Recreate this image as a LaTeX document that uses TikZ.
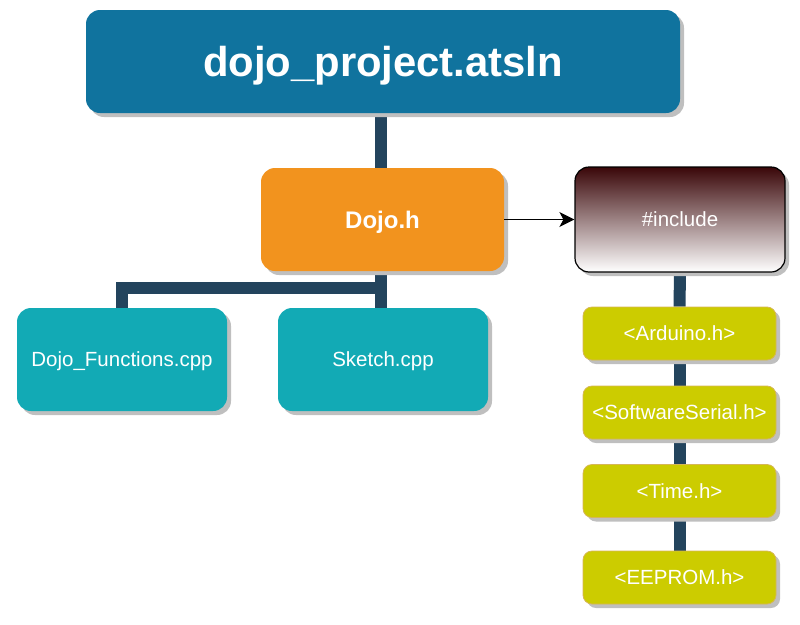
\documentclass[tikz,border=0pt]{standalone}
\usepackage{fontspec}
\setmainfont{Liberation Sans}
\usetikzlibrary{arrows.meta,shadows,backgrounds}

\definecolor{solnblue}{HTML}{10739E}
\definecolor{headorange}{HTML}{F2931E}
\definecolor{cppteal}{HTML}{12AAB5}
\definecolor{libyellow}{HTML}{CCCC00}
\definecolor{libedge}{HTML}{D6B656}
\definecolor{linkblue}{HTML}{23445D}
\definecolor{incred}{HTML}{3A0709}

\begin{document}
\begin{tikzpicture}[
  x=1pt, y=-1pt,
  every node/.style={rounded corners=14pt, align=center, text=white, inner sep=0pt, text depth=0pt,
    drop shadow={shadow xshift=4pt, shadow yshift=-4pt, fill=black!25, opacity=1}},
  solution/.style={fill=solnblue, minimum width=594pt, minimum height=103pt, font=\fontsize{41.8}{45}\selectfont\bfseries},
  header/.style={fill=headorange, minimum width=243pt, minimum height=103pt, font=\fontsize{24}{28}\selectfont\bfseries},
  source/.style={fill=cppteal, minimum width=210pt, minimum height=103pt, font=\fontsize{20.5}{24}\selectfont},
  include/.style={draw=black, line width=1.2pt, top color=incred, bottom color=white,
    minimum width=210pt, minimum height=105pt, font=\fontsize{20.5}{24}\selectfont},
  library/.style={fill=libyellow, draw=libedge, line width=0.8pt, rounded corners=9pt,
    minimum width=193pt, minimum height=53pt, font=\fontsize{20.5}{24}\selectfont},
  link/.style={draw=linkblue, line width=12pt}
]
\useasboundingbox (0,0) rectangle (800,624);

% Solution and header
\node[solution] (sln) at (383,61.5) {dojo\_project.atsln};
\node[header] (dojo) at (382.5,219.5) {Dojo.h};
\node[include] (incl) at (680,219.5) {\#include};

% Source files
\node[source] (func) at (122,359.5) {Dojo\_Functions.cpp};
\node[source] (sketch) at (383,359.5) {Sketch.cpp};

% Included libraries
\node[library] (arduino) at (679.5,333.5) {<Arduino.h>};
\node[library] (serial) at (679.5,412.5) {<SoftwareSerial.h>};
\node[library] (time) at (679.5,491) {<Time.h>};
\node[library] (eeprom) at (679.5,577.5) {<EEPROM.h>};

% Connectors
\begin{pgfonlayer}{background}
  \draw[link] (sln.south -| 381,0) -- (dojo.north -| 381,0);
  \draw[link] (dojo.south -| 381,0) -- (sketch.north -| 381,0);
  \draw[link] (dojo.south -| 381,0) -- (381,288) -| (func.north);
  \draw[link] (incl.south) -- (arduino.north);
  \draw[link] (arduino.south) -- (serial.north);
  \draw[link] (serial.south) -- (time.north);
  \draw[link] (time.south) -- (eeprom.north);
\end{pgfonlayer}
\draw[line width=1.4pt, -{Stealth[length=15pt, width=15pt, inset=4pt]}] (dojo.east) -- (incl.west);
\end{tikzpicture}
\end{document}
